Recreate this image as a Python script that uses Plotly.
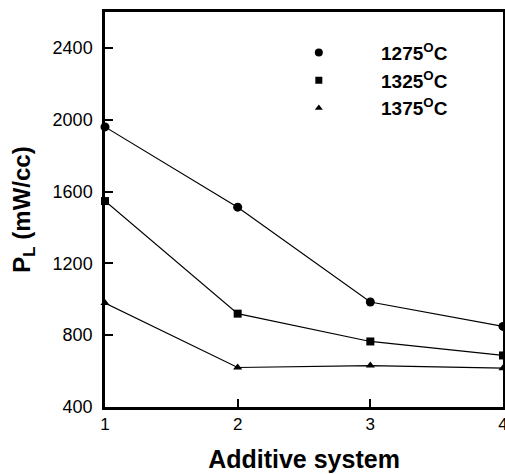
import plotly.graph_objects as go

x_vals = [1, 2, 3, 4]
series_names = ["1275<sup>O</sup>C", "1325<sup>O</sup>C", "1375<sup>O</sup>C"]
y_1275 = [1960, 1513, 985, 849]
y_1325 = [1547, 920, 765, 687]
y_1375 = [979, 620, 631, 616]
y_ticks = [400, 800, 1200, 1600, 2000, 2400]
x_ticks = [1, 2, 3, 4]

symbols = ["circle", "square", "triangle-up"]
sizes = [9, 8, 8]
series = [y_1275, y_1325, y_1375]

fig = go.Figure()
for name, ys, sym, sz in zip(series_names, series, symbols, sizes):
    fig.add_trace(go.Scatter(
        x=x_vals, y=ys, mode="lines+markers",
        line=dict(color="black", width=1.2),
        marker=dict(symbol=sym, size=sz, color="black"),
        showlegend=False, cliponaxis=False,
    ))
pad = "\u00a0" * 8
for name, sym, sz in zip(series_names, symbols, sizes):
    fig.add_trace(go.Scatter(
        x=[None], y=[None], mode="markers", name=pad + name,
        marker=dict(symbol=sym, size=sz - 1, color="black"),
        showlegend=True,
    ))

font_family = "Liberation Sans, Arial, sans-serif"
fig.update_layout(
    width=505, height=474,
    margin=dict(l=105, r=2, t=12, b=67, autoexpand=False),
    paper_bgcolor="white", plot_bgcolor="white",
    font=dict(family=font_family, color="black", size=18),
    legend=dict(
        x=0.487, y=0.945, xanchor="left", yanchor="top",
        bgcolor="rgba(0,0,0,0)",
        font=dict(size=19, family=font_family, weight="bold"),
        itemsizing="trace", tracegroupgap=0,
    ),
    xaxis=dict(
        range=[1, 4], tickvals=x_ticks, ticktext=[str(t) for t in x_ticks],
        ticks="inside", ticklen=8, tickwidth=2, tickcolor="black",
        showline=True, linewidth=2.5, linecolor="black", mirror=True,
        showgrid=False, zeroline=False, automargin=False,
        ticklabeloverflow="allow",
        tickfont=dict(size=17),
        title=dict(text="<b>Additive system</b>", font=dict(size=25), standoff=18),
    ),
    yaxis=dict(
        range=[400, 2600], tickvals=y_ticks,
        ticks="inside", ticklen=8, tickwidth=2, tickcolor="black",
        showline=True, linewidth=2.5, linecolor="black", mirror=True,
        showgrid=False, zeroline=False, automargin=False,
        tickfont=dict(size=18), ticklabelstandoff=6,
        title=dict(text="<b>P<sub>L</sub> (mW/cc)</b>", font=dict(size=24), standoff=16),
    ),
)
fig.write_html("out.html", config={"displayModeBar": False},
               post_script="document.body.style.margin='0px';")
